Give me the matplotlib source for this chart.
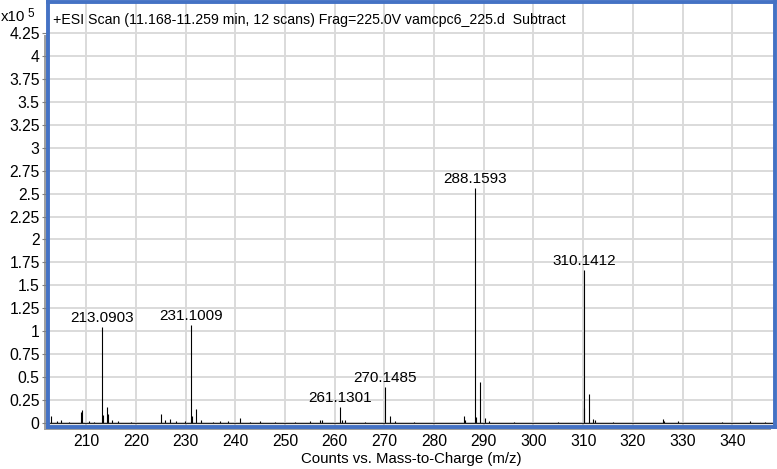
import matplotlib.pyplot as plt
from matplotlib.patches import Rectangle

plt.rcParams['font.family'] = ['Liberation Sans', 'DejaVu Sans']

# peak list (m/z, intensity in x10^5 counts)
mz = [202.9, 204.2, 204.9, 206.5, 208.9, 209.1, 210.6, 211.5, 213.0903, 213.3,
      214.09, 214.3, 215.1, 216.3, 219.0, 225.08, 225.9, 226.8, 228.0, 229.8,
      231.1009, 231.3, 232.10, 233.1, 235.5, 237.0, 238.6, 240.9, 243.0, 245.0,
      248.0, 252.0, 255.0, 257.06, 257.4, 261.1301, 261.5, 262.1, 266.0, 270.1485,
      271.15, 272.2, 276.0, 286.0, 286.3, 288.1593, 288.4, 289.16, 290.2, 291.0,
      296.0, 305.0, 310.1412, 310.25, 311.14, 312.0, 312.3, 316.0, 326.05, 326.3,
      329.0, 338.0, 343.5, 346.5]
intensity = [0.07, 0.02, 0.03, 0.01, 0.12, 0.14, 0.02, 0.01, 1.05, 0.09,
             0.17, 0.10, 0.03, 0.02, 0.01, 0.10, 0.03, 0.04, 0.02, 0.02,
             1.07, 0.08, 0.15, 0.03, 0.01, 0.02, 0.02, 0.05, 0.01, 0.02,
             0.01, 0.01, 0.02, 0.03, 0.03, 0.17, 0.03, 0.03, 0.01, 0.39,
             0.07, 0.02, 0.01, 0.08, 0.03, 2.56, 0.06, 0.45, 0.05, 0.02,
             0.01, 0.01, 1.67, 0.16, 0.31, 0.04, 0.03, 0.01, 0.04, 0.02,
             0.02, 0.01, 0.02, 0.01]

labels = ['213.0903', '231.1009', '261.1301', '270.1485', '288.1593', '310.1412']
label_mz = [213.0903, 231.1009, 261.1301, 270.1485, 288.1593, 310.1412]
label_int = [1.05, 1.07, 0.17, 0.39, 2.56, 1.67]

title = '+ESI Scan (11.168-11.259 min, 12 scans) Frag=225.0V vamcpc6_225.d  Subtract'
yticks = [i * 0.25 for i in range(18)]
ytick_labels = ['0', '0.25', '0.5', '0.75', '1', '1.25', '1.5', '1.75', '2', '2.25',
                '2.5', '2.75', '3', '3.25', '3.5', '3.75', '4', '4.25']
xticks = list(range(210, 350, 10))

fig = plt.figure(figsize=(7.77, 4.69), dpi=100)
W, H = 777, 469
left, right, top, bottom = 48, 775, 2, 427
ax = fig.add_axes([left / W, 1 - bottom / H, (right - left) / W, (bottom - top) / H])
ax.set_zorder(2)

# grey drop shadow on the left and bottom of the frame
fig.patches.append(Rectangle(((left - 4) / W, 1 - (bottom + 3) / H),
                             (right - left) / W, (bottom - top - 30) / H,
                             transform=fig.transFigure, facecolor='#a0a0a0',
                             edgecolor='none', zorder=0))

ax.set_xlim(202.3, 348.6)
ax.set_ylim(-0.045, 4.59)

ax.vlines(mz, 0, intensity, color='black', linewidth=0.8, zorder=3)
ax.axhline(0, color='#222222', linewidth=0.9, zorder=3)

for lab, x, y in zip(labels, label_mz, label_int):
    ax.annotate(lab, (x, y), xytext=(0, 1.5), textcoords='offset points',
                ha='center', va='bottom', fontsize=11, zorder=4)

ax.set_xticks(xticks)
ax.set_yticks(yticks)
ax.set_yticklabels(ytick_labels)
ax.tick_params(axis='y', length=4, width=0.8, color='#808080', labelsize=11.3, pad=2)
ax.tick_params(axis='x', length=0, labelsize=11.3, pad=5)
ax.grid(True, color='#dadada', linewidth=1.4)
ax.set_axisbelow(True)

for s in ax.spines.values():
    s.set_color('#4472c4')
    s.set_linewidth(2.8)
    s.set_zorder(5)

ax.set_xlabel('Counts vs. Mass-to-Charge (m/z)', fontsize=10.8, labelpad=2)
ax.text(0.007, 0.975, title, transform=ax.transAxes, ha='left', va='top',
        fontsize=10.2, zorder=6)

fig.text(1 / W, 1 - 17 / H, 'x10', ha='left', va='center', fontsize=10.8)
fig.text(27 / W, 1 - 14 / H, '5', ha='left', va='center', fontsize=8.5)

fig.savefig('out.png', dpi=100)
